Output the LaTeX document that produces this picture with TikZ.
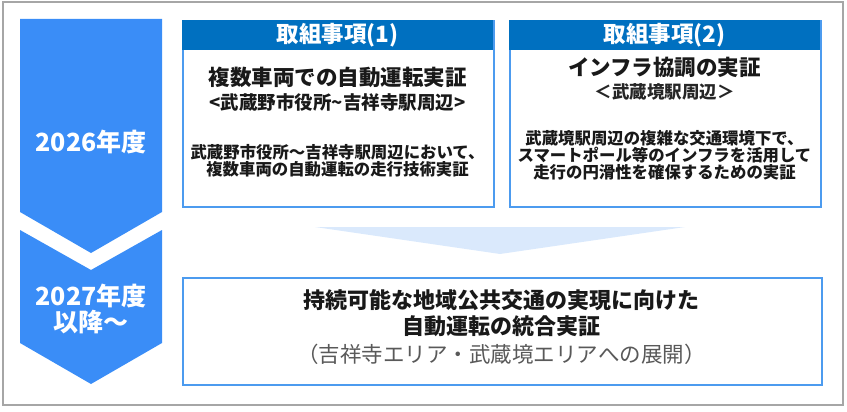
\documentclass[tikz,border=0pt]{standalone}
\usepackage{fontspec}
\setmainfont{Noto Sans CJK JP}
\definecolor{framegray}{HTML}{A6A6A6}
\definecolor{chevblue}{HTML}{3A8DF7}
\definecolor{hdrblue}{HTML}{0070C0}
\definecolor{boxblue}{HTML}{4C9BEF}
\definecolor{trifill}{HTML}{DAE9FC}
\definecolor{subgray}{HTML}{595959}
\tikzset{
  chev/.style={fill=chevblue},
  yeartext/.style={text=white, font=\bfseries\fontsize{25}{26}\selectfont, align=center, inner sep=0},
  boxframe/.style={draw=boxblue, line width=1.6pt, fill=white, anchor=north west, inner sep=0},
  hdr/.style={fill=hdrblue, text=white, font=\bfseries\fontsize{22.5}{24}\selectfont, anchor=north west, inner sep=0},
  ttl/.style={font=\bfseries\fontsize{21.5}{25}\selectfont, inner sep=0, text=black!90},
  sub/.style={font=\bfseries\fontsize{18.5}{20}\selectfont, inner sep=0, text=black!90},
  subthin/.style={font=\bfseries\fontsize{17.5}{19}\selectfont, inner sep=0, text=black!85},
  body/.style={font=\bfseries\fontsize{16.4}{17.2}\selectfont, align=center, inner sep=0, text=black!90},
  bigtext/.style={font=\bfseries\fontsize{22}{26}\selectfont, align=center, inner sep=0, text=black!90},
  paren/.style={font=\fontsize{21.5}{24}\selectfont, inner sep=0, text=subgray},
}
\begin{document}
\begin{tikzpicture}[x=1pt,y=-1pt]
\useasboundingbox (0,0) rectangle (847,412);
% outer frame
\draw[framegray, line width=1.3pt] (3,2) rectangle (843,405);
% chevrons
\fill[chev] (20,19) -- (162,19) -- (162,212) -- (91,253) -- (20,212) -- cycle;
\fill[chev] (20,230) -- (91,270) -- (162,230) -- (162,343) -- (91,384) -- (20,343) -- cycle;
\node[yeartext] (y1) at (91,142) {2026年度};
\node[yeartext] (y2) at (91,309) {2027年度\\以降～};
% box 1
\node[boxframe, minimum width=311pt, minimum height=186pt] (b1) at (182,20) {};
\node[hdr, minimum width=311pt, minimum height=30pt] (h1) at (182,20) {取組事項(1)};
\node[ttl] (t1) at (337.5,77) {複数車両での自動運転実証};
\node[sub] (s1) at (337.5,102) {<武蔵野市役所\textasciitilde 吉祥寺駅周辺>};
\node[body] (d1) at (337.5,161) {武蔵野市役所～吉祥寺駅周辺において、\\複数車両の自動運転の走行技術実証};
% box 2
\node[boxframe, minimum width=311pt, minimum height=186pt] (b2) at (509,20) {};
\node[hdr, minimum width=311pt, minimum height=30pt] (h2) at (509,20) {取組事項(2)};
\node[ttl] (t2) at (664.5,67) {インフラ協調の実証};
\node[subthin] (s2) at (664.5,92) {＜武蔵境駅周辺＞};
\node[body] (d2) at (664.5,155) {武蔵境駅周辺の複雑な交通環境下で、\\スマートポール等のインフラを活用して\\走行の円滑性を確保するための実証};
% light arrow
\fill[trifill] (315,227) -- (685,227) -- (500,254) -- cycle;
% bottom box
\node[boxframe, minimum width=639pt, minimum height=107pt] (b3) at (182,277) {};
\node[bigtext] (m1) at (501.5,313) {持続可能な地域公共交通の実現に向けた\\自動運転の統合実証};
\node[paren] (m2) at (501.5,354) {（吉祥寺エリア・武蔵境エリアへの展開）};
\end{tikzpicture}
\end{document}
